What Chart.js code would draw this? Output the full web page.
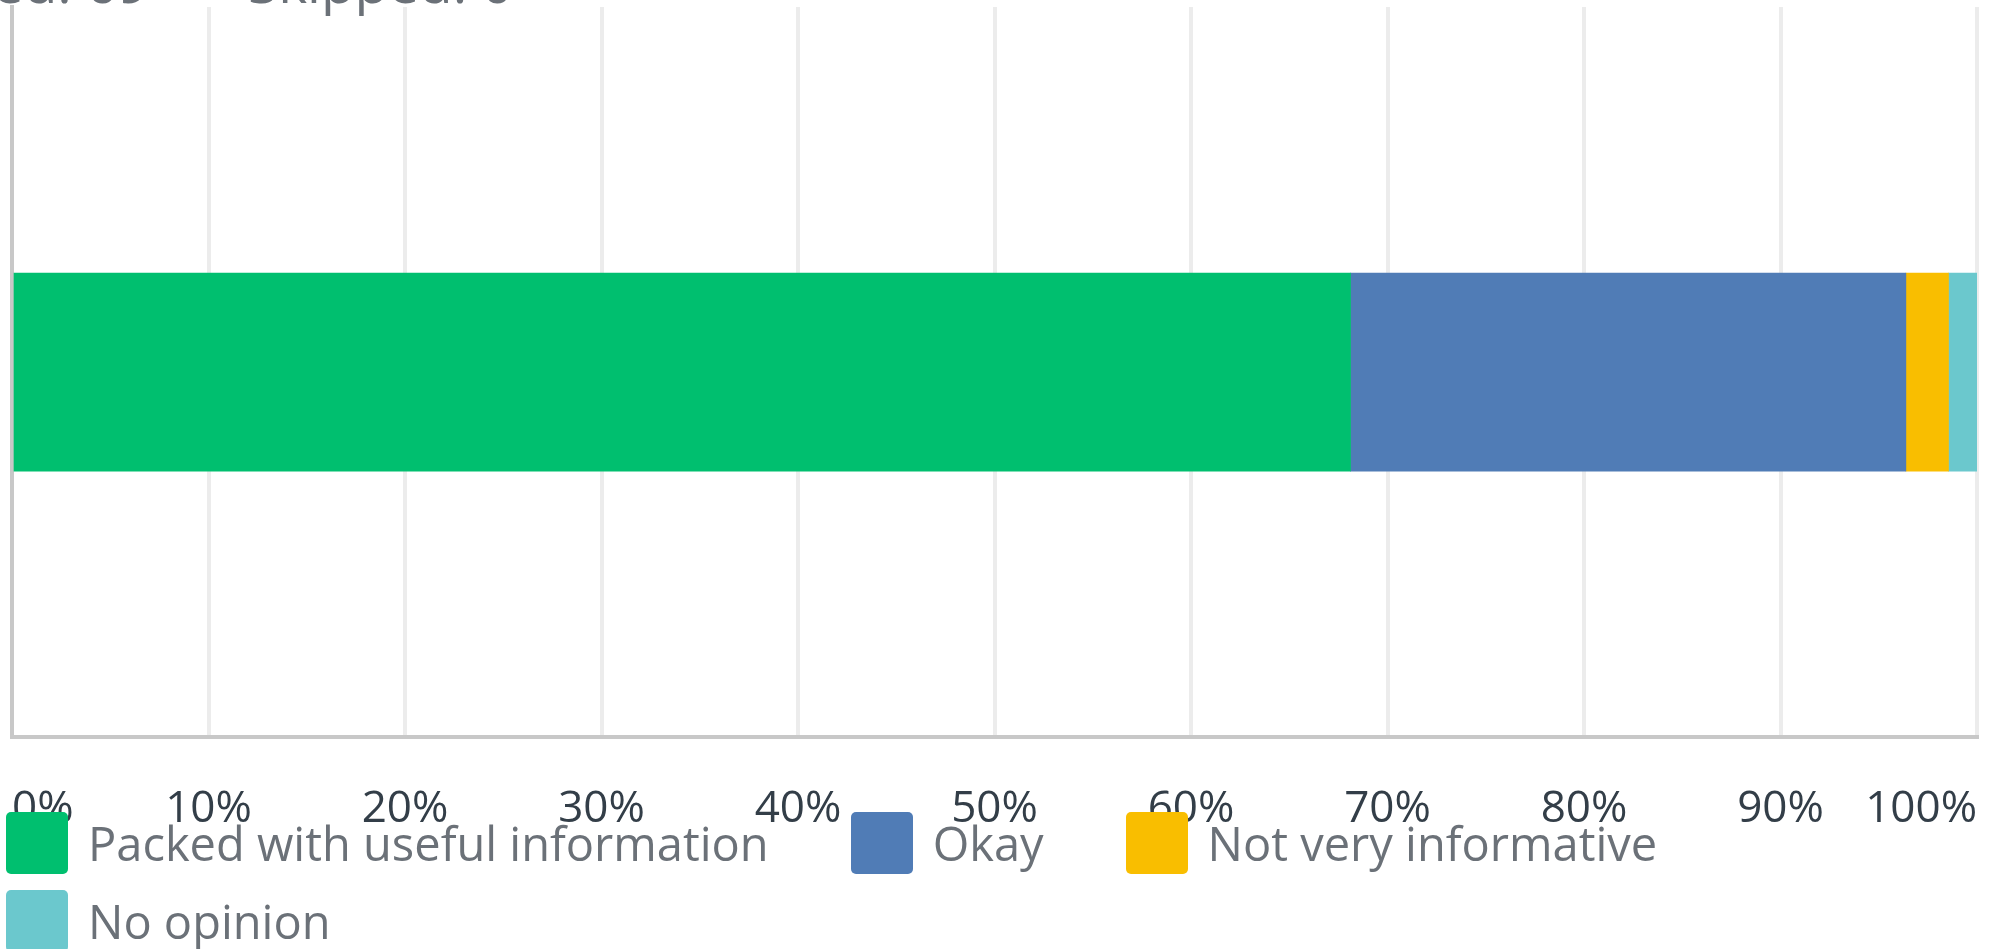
<!DOCTYPE html>
<html>
<head>
<meta charset="utf-8">
<script src="https://cdn.jsdelivr.net/npm/chart.js@4.4.1/dist/chart.umd.min.js"></script>
<style>
  html, body { margin: 0; padding: 0; background: #fff; overflow: hidden; }
  #wrap { position: relative; width: 1995px; height: 949px; overflow: hidden; }
  #chart { position: absolute; left: 0; top: 0; }
  .top-note { position: absolute; top: -48px; font: 55px 'Open Sans', sans-serif; line-height: 60px; color: #6b7178; white-space: nowrap; }
  #legend { position: absolute; left: 6px; top: 812px; width: 1989px; display: flex; flex-wrap: wrap; column-gap: 82px; row-gap: 16px; }
  .item { display: flex; align-items: center; height: 62px; }
  .swatch { width: 62px; height: 62px; border-radius: 5px; margin-right: 20px; flex: none; }
  .label { font: 47px 'Open Sans', sans-serif; line-height: 62px; color: #6b7178; white-space: nowrap; }
</style>
</head>
<body>
<div id="wrap">
  <div class="top-note" style="right: 1846px;">Answered: 69</div>
  <div class="top-note" style="left: 248px;">Skipped: 0</div>
  <canvas id="chart" width="1995" height="949"></canvas>
  <div id="legend"></div>
</div>
<script>
// Un seul groupe, barre empilée horizontale (pourcentages)
const categories = [''];
const seriesLabels = ['Packed with useful information', 'Okay', 'Not very informative', 'No opinion'];
const seriesValues = [68.12, 28.26, 2.17, 1.45];
const seriesColors = ['#00bf6f', '#507cb6', '#f9be00', '#6bc8cd'];
const tickValues = [0, 10, 20, 30, 40, 50, 60, 70, 80, 90, 100];

const TICK_TEXT = '#333e48';
const GRID = '#ececec';
const AXIS = '#c8c8c8';

const datasets = seriesLabels.map((label, i) => ({
  label,
  data: [seriesValues[i]],
  backgroundColor: seriesColors[i],
  borderWidth: 0,
  barThickness: 198
}));

const chart = new Chart(document.getElementById('chart'), {
  type: 'bar',
  data: { labels: categories, datasets },
  options: {
    indexAxis: 'y',
    responsive: false,
    animation: false,
    layout: { padding: { left: 12, right: 18, top: 7, bottom: 109 } },
    plugins: { legend: { display: false }, tooltip: { enabled: false } },
    scales: {
      x: {
        stacked: true,
        min: 0,
        max: 100,
        afterBuildTicks: axis => { axis.ticks = tickValues.map(v => ({ value: v })); },
        ticks: {
          color: TICK_TEXT,
          font: { family: "'Open Sans', sans-serif", size: 44 },
          align: 'inner',
          padding: 4,
          maxRotation: 0,
          autoSkip: false,
          callback: v => v + '%'
        },
        grid: { color: GRID, lineWidth: 4, drawTicks: true, tickLength: 42, tickColor: 'rgba(0,0,0,0)' },
        border: { color: AXIS, width: 4 }
      },
      y: {
        stacked: true,
        ticks: { display: false },
        grid: { display: false, drawTicks: false },
        border: { color: AXIS, width: 4 }
      }
    }
  }
});

// légende HTML (elle chevauche les étiquettes de l'axe comme dans l'original)
const legendEl = document.getElementById('legend');
chart.data.datasets.forEach(ds => {
  const item = document.createElement('div');
  item.className = 'item';
  const sw = document.createElement('span');
  sw.className = 'swatch';
  sw.style.background = ds.backgroundColor;
  const txt = document.createElement('span');
  txt.className = 'label';
  txt.textContent = ds.label;
  item.appendChild(sw);
  item.appendChild(txt);
  legendEl.appendChild(item);
});
</script>
</body>
</html>
